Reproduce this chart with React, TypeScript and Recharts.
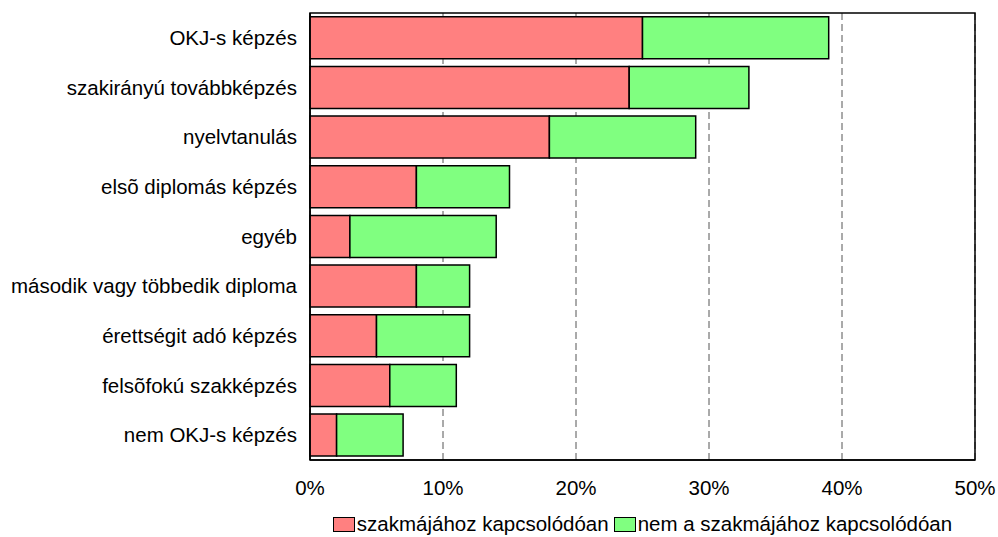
import { Bar, BarChart, CartesianGrid, Legend, ReferenceArea, XAxis, YAxis } from "recharts";

const CATEGORIES = [
  "OKJ-s képzés",
  "szakirányú továbbképzés",
  "nyelvtanulás",
  "elsõ diplomás képzés",
  "egyéb",
  "második vagy többedik diploma",
  "érettségit adó képzés",
  "felsõfokú szakképzés",
  "nem OKJ-s képzés",
];
const SZAKMAI = [25, 24, 18, 8, 3, 8, 5, 6, 2];
const NEM_SZAKMAI = [14, 9, 11, 7, 11, 4, 7, 5, 5];
const X_TICKS = [0, 10, 20, 30, 40, 50];

const SERIES = [
  { key: "szakmai", name: "szakmájához kapcsolódóan", color: "#FF8080" },
  { key: "nemSzakmai", name: "nem a szakmájához kapcsolódóan", color: "#80FF80" },
];

const FONT = '"Liberation Sans", Arial, sans-serif';
const FONT_SIZE = 20.5;

const rows = CATEGORIES.map((name, i) => ({
  name,
  szakmai: SZAKMAI[i],
  nemSzakmai: NEM_SZAKMAI[i],
}));

function LegendBox() {
  return (
    <div
      style={{
        display: "flex",
        justifyContent: "center",
        alignItems: "center",
        gap: 5,
        fontFamily: FONT,
        fontSize: FONT_SIZE,
        color: "#000",
        height: 26,
        paddingTop: 2,
      }}
    >
      {SERIES.map((s) => (
        <span key={s.key} style={{ display: "flex", alignItems: "center" }}>
          <span
            style={{
              display: "inline-block",
              width: 20,
              height: 13,
              background: s.color,
              border: "1px solid #000",
              marginRight: 2,
            }}
          />
          {s.name}
        </span>
      ))}
    </div>
  );
}

export default function App() {
  return (
    <div style={{ width: 998, height: 537, background: "#fff" }}>
      <style>{`body{margin:0}`}</style>
      <BarChart
        width={998}
        height={537}
        data={rows}
        layout="vertical"
        barCategoryGap="7.5%"
        margin={{ top: 13, right: 23, left: 0, bottom: 0 }}
      >
        <CartesianGrid
          horizontal={false}
          vertical
          stroke="#555"
          strokeDasharray="7 4"
        />
        <XAxis
          type="number"
          domain={[0, 50]}
          ticks={X_TICKS}
          tickFormatter={(v) => `${v}%`}
          axisLine={{ stroke: "#000", strokeWidth: 1.5 }}
          tickLine={false}
          tickSize={6}
          tickMargin={14}
          height={49}
          tick={{ fill: "#000", fontSize: FONT_SIZE, fontFamily: FONT }}
        />
        <YAxis
          type="category"
          dataKey="name"
          width={310}
          axisLine={{ stroke: "#000", strokeWidth: 1.5 }}
          tickLine={false}
          tickSize={6}
          tickMargin={7}
          interval={0}
          tick={{ fill: "#000", fontSize: FONT_SIZE, fontFamily: FONT }}
        />
        <Legend
          verticalAlign="bottom"
          wrapperStyle={{ left: 310, width: 665 }}
          content={() => <LegendBox />}
        />
        {SERIES.map((s) => (
          <Bar
            key={s.key}
            dataKey={s.key}
            name={s.name}
            stackId="a"
            fill={s.color}
            stroke="#000"
            strokeWidth={1.5}
            isAnimationActive={false}
          />
        ))}
        <ReferenceArea x1={0} x2={50} fill="none" stroke="#000" strokeWidth={1.5} ifOverflow="visible" />
      </BarChart>
    </div>
  );
}
